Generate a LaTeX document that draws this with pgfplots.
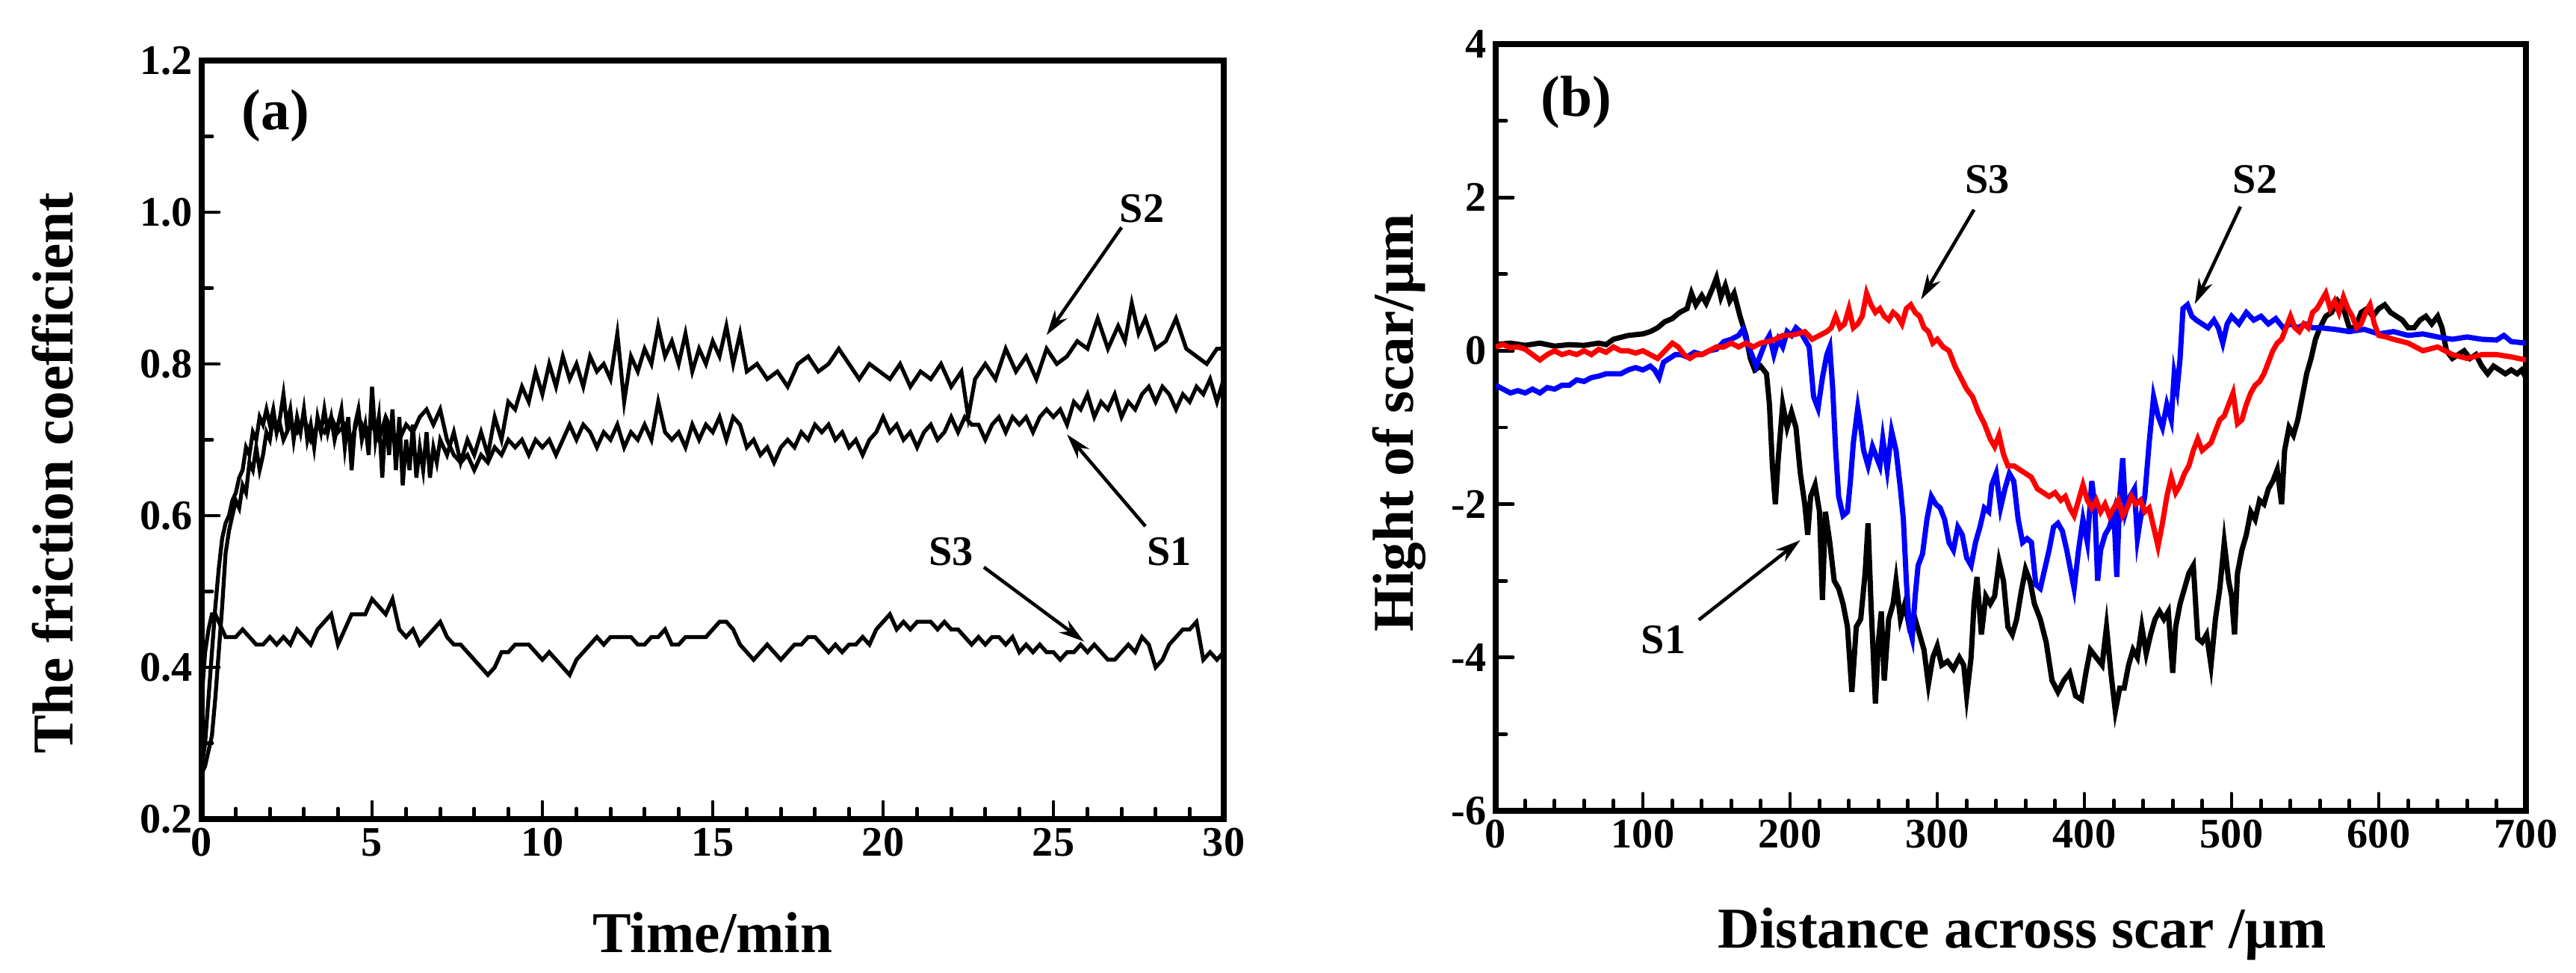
\documentclass[border=0pt]{standalone}
\usepackage{fontspec}
\setmainfont{Liberation Serif}
\usepackage{pgfplots}
\pgfplotsset{compat=1.18}
\usetikzlibrary{arrows.meta}

\pgfplotstableread{
t v
0.00 0.27
0.10 0.30
0.20 0.36
0.30 0.42
0.40 0.48
0.50 0.53
0.60 0.57
0.70 0.59
0.80 0.60
0.90 0.62
1.00 0.63
1.10 0.65
1.20 0.66
1.30 0.69
1.40 0.68
1.50 0.71
1.60 0.70
1.70 0.73
1.80 0.72
1.90 0.74
2.00 0.72
2.10 0.74
2.20 0.71
2.30 0.73
2.40 0.76
2.50 0.72
2.60 0.74
2.70 0.70
2.80 0.73
2.90 0.71
3.00 0.74
3.10 0.70
3.20 0.72
3.30 0.69
3.40 0.73
3.50 0.71
3.60 0.74
3.70 0.71
3.80 0.73
3.90 0.70
4.00 0.72
4.10 0.74
4.20 0.69
4.30 0.73
4.40 0.66
4.50 0.72
4.60 0.74
4.70 0.70
4.80 0.72
4.90 0.68
5.00 0.77
5.10 0.70
5.20 0.73
5.30 0.65
5.40 0.73
5.50 0.68
5.60 0.74
5.70 0.66
5.80 0.73
5.90 0.64
6.00 0.70
6.10 0.66
6.20 0.72
6.30 0.65
6.40 0.69
6.50 0.66
6.60 0.71
6.70 0.65
6.80 0.69
6.90 0.67
7.00 0.70
7.20 0.68
7.40 0.71
7.60 0.67
7.80 0.70
8.00 0.68
8.20 0.71
8.40 0.68
8.60 0.73
8.80 0.70
9.00 0.75
9.20 0.74
9.40 0.77
9.60 0.75
9.80 0.79
10.0 0.76
10.2 0.80
10.4 0.77
10.6 0.81
10.8 0.78
11.0 0.80
11.2 0.77
11.4 0.81
11.6 0.79
11.8 0.80
12.0 0.78
12.2 0.84
12.4 0.75
12.6 0.81
12.8 0.79
13.0 0.82
13.2 0.80
13.4 0.85
13.6 0.81
13.8 0.83
14.0 0.80
14.2 0.84
14.4 0.79
14.6 0.82
14.8 0.80
15.0 0.83
15.2 0.81
15.4 0.85
15.6 0.80
15.8 0.84
16.0 0.79
16.3 0.80
16.6 0.78
16.9 0.79
17.2 0.77
17.5 0.80
17.8 0.81
18.1 0.79
18.4 0.80
18.7 0.82
19.0 0.80
19.3 0.78
19.6 0.80
19.9 0.79
20.2 0.78
20.5 0.80
20.8 0.77
21.1 0.79
21.4 0.78
21.7 0.80
22.0 0.77
22.3 0.79
22.5 0.73
22.7 0.78
23.0 0.80
23.3 0.78
23.6 0.82
23.9 0.79
24.2 0.81
24.5 0.78
24.8 0.82
25.1 0.80
25.4 0.81
25.7 0.83
26.0 0.82
26.3 0.86
26.6 0.82
26.9 0.85
27.1 0.83
27.3 0.88
27.5 0.84
27.7 0.86
28.0 0.82
28.3 0.83
28.6 0.86
28.9 0.82
29.2 0.81
29.5 0.80
29.8 0.82
30.0 0.82
}\dataAtwo

\pgfplotstableread{
t v
0.00 0.26
0.10 0.27
0.20 0.29
0.30 0.31
0.40 0.36
0.50 0.42
0.60 0.48
0.70 0.55
0.80 0.58
0.90 0.60
1.00 0.62
1.10 0.61
1.20 0.64
1.30 0.63
1.40 0.67
1.50 0.66
1.60 0.69
1.70 0.66
1.80 0.68
1.90 0.71
2.00 0.70
2.10 0.73
2.20 0.71
2.30 0.72
2.40 0.70
2.60 0.72
2.80 0.71
3.00 0.73
3.20 0.70
3.40 0.72
3.60 0.71
3.80 0.73
4.00 0.71
4.20 0.72
4.40 0.70
4.60 0.73
4.80 0.71
5.00 0.72
5.20 0.70
5.40 0.73
5.60 0.71
5.80 0.70
6.00 0.72
6.20 0.71
6.40 0.73
6.60 0.74
6.80 0.72
7.00 0.74
7.20 0.70
7.40 0.68
7.60 0.67
7.80 0.68
8.00 0.66
8.20 0.68
8.40 0.67
8.60 0.69
8.80 0.68
9.00 0.70
9.20 0.69
9.40 0.70
9.60 0.68
9.80 0.70
10.0 0.69
10.2 0.70
10.4 0.68
10.6 0.70
10.8 0.72
11.0 0.70
11.2 0.72
11.4 0.71
11.6 0.69
11.8 0.71
12.0 0.70
12.2 0.72
12.4 0.69
12.6 0.71
12.8 0.70
13.0 0.72
13.2 0.70
13.4 0.75
13.6 0.71
13.8 0.70
14.0 0.71
14.2 0.69
14.4 0.72
14.6 0.70
14.8 0.72
15.0 0.71
15.2 0.73
15.4 0.70
15.6 0.73
15.8 0.72
16.0 0.69
16.2 0.70
16.4 0.68
16.6 0.69
16.8 0.67
17.0 0.69
17.2 0.70
17.4 0.69
17.6 0.71
17.8 0.70
18.0 0.72
18.2 0.71
18.4 0.72
18.6 0.70
18.8 0.71
19.0 0.69
19.2 0.70
19.4 0.68
19.6 0.70
19.8 0.71
20.0 0.73
20.2 0.71
20.4 0.72
20.6 0.70
20.8 0.71
21.0 0.69
21.2 0.71
21.4 0.72
21.6 0.70
21.8 0.71
22.0 0.73
22.2 0.71
22.4 0.73
22.6 0.72
22.8 0.72
23.0 0.70
23.2 0.72
23.4 0.73
23.6 0.71
23.8 0.73
24.0 0.72
24.2 0.73
24.4 0.71
24.6 0.73
24.8 0.74
25.0 0.73
25.2 0.74
25.4 0.72
25.6 0.75
25.8 0.74
26.0 0.76
26.2 0.73
26.4 0.75
26.6 0.74
26.8 0.76
27.0 0.73
27.2 0.75
27.4 0.74
27.6 0.76
27.8 0.77
28.0 0.75
28.2 0.77
28.4 0.76
28.6 0.74
28.8 0.76
29.0 0.75
29.2 0.77
29.4 0.76
29.6 0.78
29.8 0.75
30.0 0.78
}\dataAone

\pgfplotstableread{
t v
0.00 0.36
0.10 0.42
0.20 0.45
0.30 0.47
0.40 0.47
0.50 0.46
0.60 0.45
0.70 0.44
0.80 0.44
1.00 0.44
1.20 0.45
1.40 0.44
1.60 0.43
1.80 0.43
2.00 0.44
2.20 0.43
2.40 0.44
2.60 0.43
2.80 0.45
3.00 0.44
3.20 0.43
3.40 0.45
3.60 0.46
3.80 0.47
4.00 0.43
4.20 0.45
4.40 0.47
4.60 0.47
4.80 0.47
5.00 0.49
5.20 0.48
5.40 0.47
5.60 0.49
5.80 0.45
6.00 0.44
6.20 0.45
6.40 0.43
6.60 0.44
6.80 0.45
7.00 0.46
7.20 0.44
7.40 0.43
7.60 0.43
7.80 0.42
8.00 0.41
8.20 0.40
8.40 0.39
8.60 0.40
8.80 0.42
9.00 0.42
9.20 0.43
9.40 0.43
9.60 0.43
9.80 0.42
10.0 0.41
10.2 0.42
10.4 0.41
10.6 0.40
10.8 0.39
11.0 0.41
11.2 0.42
11.4 0.43
11.6 0.44
11.8 0.43
12.0 0.44
12.2 0.44
12.4 0.44
12.6 0.44
12.8 0.43
13.0 0.43
13.2 0.44
13.4 0.44
13.6 0.45
13.8 0.43
14.0 0.43
14.2 0.44
14.4 0.44
14.6 0.44
14.8 0.44
15.0 0.45
15.2 0.46
15.4 0.46
15.6 0.45
15.8 0.43
16.0 0.42
16.2 0.41
16.4 0.42
16.6 0.43
16.8 0.42
17.0 0.41
17.2 0.42
17.4 0.43
17.6 0.43
17.8 0.44
18.0 0.44
18.2 0.43
18.4 0.42
18.6 0.43
18.8 0.42
19.0 0.43
19.2 0.43
19.4 0.44
19.6 0.43
19.8 0.45
20.0 0.46
20.2 0.47
20.4 0.45
20.6 0.46
20.8 0.45
21.0 0.46
21.2 0.46
21.4 0.46
21.6 0.45
21.8 0.46
22.0 0.45
22.2 0.45
22.4 0.44
22.6 0.43
22.8 0.44
23.0 0.43
23.2 0.44
23.4 0.44
23.6 0.43
23.8 0.44
24.0 0.42
24.2 0.43
24.4 0.42
24.6 0.43
24.8 0.42
25.0 0.42
25.2 0.41
25.4 0.42
25.6 0.42
25.8 0.43
26.0 0.42
26.2 0.43
26.4 0.42
26.6 0.41
26.8 0.41
27.0 0.42
27.2 0.43
27.4 0.42
27.6 0.44
27.8 0.43
28.0 0.40
28.2 0.41
28.4 0.43
28.6 0.44
28.8 0.45
29.0 0.45
29.2 0.46
29.4 0.41
29.6 0.42
29.8 0.41
30.0 0.42
}\dataAthree

\pgfplotstableread{
x y
0 0.08
10 0.1
20 0.07
30 0.1
40 0.06
50 0.08
60 0.07
70 0.1
75 0.08
80 0.15
90 0.2
100 0.22
105 0.25
110 0.3
115 0.38
120 0.42
125 0.5
130 0.55
133 0.75
136 0.6
140 0.72
143 0.62
147 0.8
150 0.95
153 0.7
156 0.85
159 0.65
162 0.75
166 0.45
170 0.2
173 -0.1
176 -0.25
180 -0.2
184 -0.3
186 -0.7
188 -1.5
190 -2.0
192 -1.4
195 -0.7
198 -1.0
201 -0.8
204 -1.0
207 -1.6
210 -2.0
212 -2.4
214 -1.9
217 -1.75
220 -2.1
222 -3.25
224 -2.1
227 -2.5
230 -3.0
233 -3.1
236 -3.3
239 -3.6
242 -4.45
245 -3.6
248 -3.5
251 -2.9
253 -2.25
255 -3.3
258 -4.6
260 -3.8
262 -3.4
264 -4.3
267 -3.5
270 -3.3
272 -3.0
275 -3.5
278 -3.3
281 -3.6
285 -3.5
288 -3.7
291 -3.9
294 -4.35
297 -4.0
300 -3.85
303 -4.1
307 -4.05
311 -4.15
315 -4.0
318 -4.1
320 -4.5
323 -4.0
325 -3.3
327 -2.95
330 -3.7
333 -3.2
336 -3.3
339 -3.2
342 -2.75
345 -3.0
348 -3.6
351 -3.7
354 -3.5
357 -3.15
360 -2.85
363 -3.0
366 -3.3
370 -3.5
374 -3.8
378 -4.3
382 -4.45
386 -4.3
390 -4.2
394 -4.5
398 -4.55
401 -4.2
404 -3.9
408 -4.0
412 -4.1
415 -3.6
418 -4.2
421 -4.7
424 -4.4
427 -4.4
430 -4.1
433 -3.9
436 -4.0
439 -3.6
442 -3.95
445 -3.7
448 -3.5
451 -3.4
454 -3.5
457 -3.4
460 -4.2
462 -3.6
465 -3.3
468 -3.1
471 -2.9
474 -2.8
477 -3.75
480 -3.8
483 -3.7
486 -4.1
489 -3.5
492 -3.1
495 -2.5
498 -3.0
500 -3.2
502 -3.7
504 -2.9
507 -2.6
510 -2.4
513 -2.1
516 -2.2
519 -1.95
522 -2.0
525 -1.8
528 -1.7
531 -1.55
534 -2.0
536 -1.3
539 -1.0
542 -1.1
545 -0.9
548 -0.6
551 -0.3
554 -0.1
557 0.15
560 0.3
564 0.45
568 0.5
572 0.65
576 0.55
580 0.3
584 0.3
588 0.5
592 0.55
596 0.45
600 0.55
604 0.6
608 0.5
612 0.45
616 0.4
620 0.3
624 0.3
628 0.4
632 0.45
636 0.35
640 0.45
643 0.3
646 0.0
650 -0.1
654 -0.05
658 0.0
662 -0.1
666 -0.05
670 -0.2
674 -0.3
678 -0.2
682 -0.25
686 -0.3
690 -0.25
694 -0.3
697 -0.25
700 -0.35
}\dataBone

\pgfplotstableread{
x y
0 -0.45
5 -0.5
10 -0.55
15 -0.52
20 -0.55
25 -0.5
30 -0.55
35 -0.48
40 -0.5
45 -0.45
50 -0.45
55 -0.38
60 -0.4
65 -0.35
70 -0.33
75 -0.3
80 -0.3
85 -0.3
90 -0.25
95 -0.22
100 -0.25
105 -0.2
108 -0.25
111 -0.35
114 -0.15
118 -0.1
122 -0.05
126 -0.05
130 -0.08
135 -0.02
140 -0.05
145 0.0
150 0.02
155 0.12
160 0.15
165 0.2
168 0.28
171 0.1
174 -0.05
177 -0.2
180 -0.05
183 0.1
186 0.2
189 -0.05
192 0.15
195 0.05
198 0.25
201 0.2
204 0.3
207 0.25
210 0.15
213 0.05
216 -0.6
219 -0.75
222 -0.35
225 -0.05
227 0.05
229 -0.5
231 -1.3
233 -1.9
236 -2.15
239 -2.1
241 -1.7
243 -1.2
246 -0.75
248 -1.0
250 -1.3
253 -1.5
256 -1.25
259 -1.4
261 -1.5
263 -1.15
266 -1.55
269 -1.05
272 -1.3
275 -1.8
277 -2.2
279 -3.0
281 -3.6
283 -3.75
285 -3.2
287 -2.8
290 -2.65
293 -2.2
296 -1.9
299 -2.0
302 -2.05
305 -2.2
308 -2.5
311 -2.6
314 -2.3
317 -2.4
320 -2.7
323 -2.8
326 -2.5
329 -2.3
332 -2.05
335 -2.1
337 -1.75
340 -1.6
343 -2.05
346 -1.8
349 -1.6
352 -1.7
355 -2.2
358 -2.5
361 -2.45
364 -2.5
367 -3.05
370 -3.1
373 -2.85
376 -2.6
379 -2.3
382 -2.25
385 -2.35
388 -2.6
391 -2.9
393 -3.1
396 -2.6
399 -2.2
402 -2.5
405 -1.7
407 -2.0
409 -3.0
411 -2.6
414 -2.4
417 -2.3
420 -2.1
422 -2.95
424 -1.9
426 -1.4
428 -2.1
431 -1.9
434 -1.8
436 -2.45
438 -2.2
441 -1.9
444 -1.2
447 -0.6
450 -0.85
453 -1.0
456 -0.7
459 -0.9
461 -0.3
463 -0.5
465 -0.1
467 0.55
470 0.6
473 0.45
476 0.4
480 0.35
484 0.3
488 0.4
491 0.3
494 0.1
497 0.35
500 0.45
505 0.35
510 0.5
515 0.4
520 0.45
525 0.35
530 0.42
535 0.3
540 0.35
545 0.3
550 0.35
555 0.3
560 0.3
570 0.28
580 0.25
590 0.28
600 0.22
610 0.25
620 0.2
630 0.22
640 0.18
650 0.15
660 0.18
670 0.15
680 0.14
685 0.2
690 0.12
700 0.1
}\dataBtwo

\pgfplotstableread{
x y
0 0.05
5 0.08
10 0.04
15 0.05
20 0.02
25 -0.05
30 -0.12
35 -0.05
40 0.0
45 -0.05
50 -0.02
55 -0.05
60 0.0
65 -0.05
70 0.02
75 -0.02
80 0.05
85 0.0
90 0.0
95 -0.03
100 0.0
105 -0.05
110 -0.1
115 0.0
120 0.1
124 0.05
128 -0.05
132 -0.1
136 -0.05
140 -0.05
145 0.0
150 0.05
155 0.05
160 0.1
165 0.05
170 0.1
175 0.05
180 0.1
185 0.12
190 0.15
195 0.2
200 0.2
205 0.22
210 0.25
215 0.15
220 0.2
225 0.25
228 0.3
231 0.45
234 0.3
237 0.35
240 0.55
243 0.3
246 0.35
249 0.45
252 0.75
255 0.6
258 0.5
261 0.55
264 0.45
267 0.4
270 0.5
273 0.45
276 0.35
279 0.55
282 0.6
285 0.5
288 0.45
291 0.3
294 0.25
297 0.1
300 0.15
304 0.05
308 0.0
312 -0.2
316 -0.35
320 -0.5
324 -0.6
328 -0.8
332 -0.95
336 -1.15
339 -1.25
342 -1.1
345 -1.35
348 -1.5
352 -1.5
356 -1.55
360 -1.6
364 -1.65
368 -1.8
372 -1.85
376 -1.9
380 -1.85
384 -1.95
387 -1.9
390 -2.05
393 -2.15
396 -1.95
399 -1.75
402 -1.95
405 -2.05
408 -1.95
411 -2.1
414 -2.0
417 -2.15
420 -2.05
423 -1.95
426 -2.15
429 -2.05
432 -1.9
435 -2.0
438 -1.95
441 -2.1
444 -2.05
447 -2.3
450 -2.55
453 -2.25
456 -1.9
459 -1.65
462 -1.85
465 -1.75
468 -1.6
471 -1.5
474 -1.3
477 -1.15
480 -1.3
483 -1.25
486 -1.2
489 -1.05
492 -0.9
495 -0.85
498 -0.7
501 -0.55
504 -0.95
507 -0.9
510 -0.7
513 -0.55
516 -0.45
519 -0.4
522 -0.3
525 -0.15
528 0.0
531 0.1
534 0.15
537 0.3
540 0.45
543 0.3
546 0.25
549 0.35
552 0.3
555 0.5
558 0.55
561 0.65
564 0.75
567 0.55
570 0.65
573 0.5
576 0.7
579 0.55
582 0.45
585 0.3
588 0.35
591 0.5
594 0.6
597 0.35
600 0.2
605 0.18
610 0.15
620 0.1
630 0.0
640 0.05
650 -0.05
660 -0.1
670 -0.05
680 -0.05
690 -0.08
700 -0.12
}\dataBthree

\tikzset{
  lbl/.style={font=\fontsize{16}{16}\selectfont\bfseries, inner sep=0pt},
  arr/.style={-{Stealth[length=0.34cm,width=0.2cm]}, line width=1.3pt},
}
\pgfplotsset{
  myax/.style={
    scale only axis,
    axis line style={line width=2.1pt},
    tick style={line width=1.4pt, line cap=round, black},
    major tick length=0.23cm,
    minor tick length=0.14cm,
    tick align=inside,
    xtick pos=bottom, ytick pos=left,
    ticklabel style={font=\fontsize{16}{16}\selectfont\bfseries},
    /pgf/number format/assume math mode=true,
    label style={font=\fontsize{22}{22}\selectfont\bfseries},
  },
}

\begin{document}
\begin{tikzpicture}[x=1cm,y=1cm]
\useasboundingbox (0,0) rectangle (34.48,13.02);
\begin{axis}[myax,
  at={(2.70cm,2.06cm)}, anchor=south west,
  width=13.68cm, height=10.15cm,
  xmin=0, xmax=30, ymin=0.2, ymax=1.2,
  xtick={0,5,...,30}, minor x tick num=4,
  ytick={0.2,0.4,0.6,0.8,1.0,1.2}, minor y tick num=1,
  yticklabel style={/pgf/number format/.cd, fixed, fixed zerofill, precision=1},
  xlabel={Time/min},
  ylabel={The friction coefficient},
  xlabel style={at={(axis description cs:0.5,-0.176)}, anchor=base},
  ylabel style={at={(axis description cs:-0.126,0.456)}, anchor=base},
]
\addplot[black, line width=1.5pt] table[x=t,y=v] {\dataAone};
\addplot[black, line width=1.5pt] table[x=t,y=v] {\dataAtwo};
\addplot[black, line width=1.5pt] table[x=t,y=v] {\dataAthree};
\node[font=\fontsize{22}{22}\selectfont\bfseries, inner sep=0pt, anchor=west] at (axis cs:1.16,1.127) {(a)};
\node[lbl] at (axis cs:27.6,1.005) {S2};
\draw[arr] (axis cs:27.0,0.98) -- (axis cs:24.8,0.838);
\node[lbl] at (axis cs:28.4,0.553) {S1};
\draw[arr] (axis cs:27.7,0.586) -- (axis cs:25.4,0.707);
\node[lbl] at (axis cs:22.0,0.553) {S3};
\draw[arr] (axis cs:22.96,0.532) -- (axis cs:25.9,0.434);
\end{axis}

\begin{axis}[myax,
  at={(20.02cm,2.17cm)}, anchor=south west,
  width=13.79cm, height=10.26cm,
  xmin=0, xmax=700, ymin=-6, ymax=4,
  xtick={0,100,...,700}, minor x tick num=4,
  ytick={-6,-4,-2,0,2,4}, minor y tick num=1,
  xlabel={Distance across scar /µm},
  ylabel={Hight of scar/µm},
  xlabel style={at={(axis description cs:0.511,-0.179)}, anchor=base},
  ylabel style={at={(axis description cs:-0.080,0.506)}, anchor=base},
]
\addplot[black, line width=2pt] table[x=x,y=y] {\dataBone};
\addplot[blue, line width=2pt] table[x=x,y=y] {\dataBtwo};
\addplot[red, line width=2pt] table[x=x,y=y] {\dataBthree};
\node[font=\fontsize{22}{22}\selectfont\bfseries, inner sep=0pt, anchor=west] at (axis cs:30.5,3.24) {(b)};
\node[lbl] at (axis cs:334,2.23) {S3};
\draw[arr] (axis cs:325,1.84) -- (axis cs:289,0.67);
\node[lbl] at (axis cs:516,2.23) {S2};
\draw[arr] (axis cs:506,1.88) -- (axis cs:475,0.61);
\node[lbl] at (axis cs:114,-3.77) {S1};
\draw[arr] (axis cs:138,-3.51) -- (axis cs:207,-2.47);
\end{axis}
\end{tikzpicture}
\end{document}
